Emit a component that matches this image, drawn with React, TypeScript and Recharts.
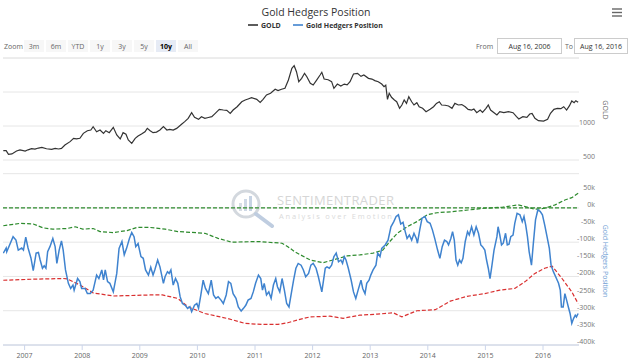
import { CartesianGrid, ComposedChart, Line, ReferenceLine, XAxis, YAxis } from "recharts";

const FONT = "'Open Sans', 'Noto Sans', sans-serif";

// x values are fractional years (Aug 2006 .. Aug 2016)
const goldDates = [
  2006.63, 2006.68, 2006.72, 2006.78, 2006.86, 2006.92, 2007.01, 2007.06, 2007.12, 2007.18, 2007.24, 2007.3,
  2007.38, 2007.47, 2007.53, 2007.59, 2007.64, 2007.7, 2007.79, 2007.85, 2007.9, 2007.96, 2008.02, 2008.09,
  2008.15, 2008.19, 2008.25, 2008.31, 2008.37, 2008.41, 2008.47, 2008.54, 2008.6, 2008.66, 2008.71, 2008.76,
  2008.8, 2008.86, 2008.92, 2008.97, 2009.03, 2009.09, 2009.13, 2009.18, 2009.23, 2009.29, 2009.35, 2009.41,
  2009.47, 2009.52, 2009.58, 2009.64, 2009.73, 2009.78, 2009.84, 2009.9, 2009.95, 2010.02, 2010.07, 2010.13,
  2010.19, 2010.25, 2010.31, 2010.38, 2010.45, 2010.51, 2010.57, 2010.62, 2010.69, 2010.77, 2010.83, 2010.88,
  2010.94, 2011.03, 2011.09, 2011.14, 2011.2, 2011.27, 2011.35, 2011.4, 2011.46, 2011.52, 2011.58, 2011.64,
  2011.68, 2011.72, 2011.76, 2011.81, 2011.86, 2011.9, 2011.96, 2012.01, 2012.07, 2012.13, 2012.16, 2012.2,
  2012.27, 2012.33, 2012.37, 2012.43, 2012.49, 2012.55, 2012.6, 2012.65, 2012.71, 2012.78, 2012.84, 2012.89,
  2012.97, 2013.03, 2013.08, 2013.14, 2013.2, 2013.24, 2013.27, 2013.3, 2013.33, 2013.37, 2013.42, 2013.46,
  2013.51, 2013.55, 2013.59, 2013.63, 2013.67, 2013.72, 2013.76, 2013.81, 2013.85, 2013.91, 2013.97, 2014.04,
  2014.1, 2014.15, 2014.2, 2014.24, 2014.3, 2014.36, 2014.42, 2014.47, 2014.53, 2014.59, 2014.65, 2014.7,
  2014.76, 2014.8, 2014.85, 2014.91, 2014.95, 2015.01, 2015.05, 2015.09, 2015.15, 2015.2, 2015.25, 2015.32,
  2015.4, 2015.48, 2015.54, 2015.58, 2015.65, 2015.72, 2015.77, 2015.81, 2015.86, 2015.92, 2016.01, 2016.08,
  2016.13, 2016.19, 2016.25, 2016.31, 2016.36, 2016.41, 2016.46, 2016.5, 2016.54, 2016.57, 2016.61,
];
const goldPrices = [
  637, 637, 584, 590, 632, 650, 632, 650, 666, 660, 676, 686,
  666, 657, 670, 662, 670, 720, 770, 819, 810, 819, 892, 931,
  941, 990, 916, 941, 892, 931, 902, 980, 868, 809, 902, 880,
  794, 745, 819, 853, 882, 916, 965, 931, 902, 910, 941, 990,
  941, 951, 941, 965, 1029, 1064, 1113, 1196, 1128, 1098, 1137, 1113,
  1125, 1137, 1186, 1245, 1235, 1230, 1186, 1235, 1284, 1357, 1382, 1397,
  1416, 1392, 1348, 1392, 1456, 1481, 1540, 1520, 1540, 1555, 1676, 1848,
  1887, 1799, 1652, 1701, 1775, 1725, 1627, 1603, 1676, 1750, 1790, 1691,
  1680, 1652, 1554, 1617, 1588, 1617, 1605, 1652, 1765, 1775, 1730, 1750,
  1701, 1690, 1667, 1650, 1617, 1578, 1600, 1392, 1481, 1422, 1382, 1357,
  1260, 1309, 1382, 1333, 1431, 1357, 1309, 1343, 1284, 1260, 1211, 1245,
  1284, 1333, 1357, 1309, 1305, 1294, 1260, 1333, 1309, 1315, 1284, 1245,
  1235, 1250, 1196, 1235, 1200, 1260, 1309, 1235, 1196, 1162, 1211, 1196,
  1211, 1196, 1137, 1103, 1137, 1128, 1176, 1186, 1113, 1078, 1073, 1098,
  1186, 1245, 1260, 1255, 1284, 1235, 1299, 1368, 1343, 1372, 1348,
];

const hedgerDates = [
  2006.63, 2006.68, 2006.69, 2006.8, 2006.85, 2006.89, 2006.95, 2006.98, 2007.02, 2007.06, 2007.11, 2007.15,
  2007.2, 2007.24, 2007.27, 2007.31, 2007.34, 2007.37, 2007.4, 2007.44, 2007.49, 2007.53, 2007.56, 2007.6,
  2007.64, 2007.67, 2007.71, 2007.76, 2007.8, 2007.84, 2007.86, 2007.92, 2007.96, 2007.99, 2008.05, 2008.09,
  2008.14, 2008.19, 2008.25, 2008.29, 2008.34, 2008.37, 2008.4, 2008.44, 2008.48, 2008.54, 2008.6, 2008.64,
  2008.69, 2008.73, 2008.77, 2008.82, 2008.86, 2008.9, 2008.93, 2008.97, 2009.02, 2009.06, 2009.1, 2009.15,
  2009.19, 2009.23, 2009.26, 2009.31, 2009.35, 2009.41, 2009.44, 2009.48, 2009.51, 2009.54, 2009.58, 2009.62,
  2009.66, 2009.7, 2009.74, 2009.79, 2009.83, 2009.87, 2009.9, 2009.95, 2009.99, 2010.02, 2010.06, 2010.1,
  2010.14, 2010.19, 2010.24, 2010.28, 2010.32, 2010.36, 2010.41, 2010.45, 2010.5, 2010.54, 2010.58, 2010.62,
  2010.67, 2010.71, 2010.76, 2010.8, 2010.84, 2010.88, 2010.93, 2010.97, 2011.01, 2011.06, 2011.1, 2011.13,
  2011.16, 2011.2, 2011.24, 2011.28, 2011.32, 2011.36, 2011.39, 2011.43, 2011.47, 2011.51, 2011.55, 2011.59,
  2011.64, 2011.67, 2011.71, 2011.75, 2011.8, 2011.84, 2011.88, 2011.93, 2011.97, 2012.01, 2012.06, 2012.1,
  2012.16, 2012.19, 2012.22, 2012.25, 2012.29, 2012.33, 2012.37, 2012.41, 2012.45, 2012.49, 2012.52, 2012.55,
  2012.58, 2012.62, 2012.67, 2012.71, 2012.75, 2012.79, 2012.84, 2012.87, 2012.91, 2012.94, 2012.98, 2013.01,
  2013.05, 2013.1, 2013.13, 2013.17, 2013.2, 2013.26, 2013.31, 2013.36, 2013.41, 2013.45, 2013.49, 2013.53,
  2013.57, 2013.6, 2013.64, 2013.68, 2013.72, 2013.76, 2013.8, 2013.82, 2013.86, 2013.9, 2013.95, 2013.99,
  2014.04, 2014.08, 2014.12, 2014.17, 2014.21, 2014.25, 2014.29, 2014.33, 2014.36, 2014.4, 2014.43, 2014.46,
  2014.49, 2014.52, 2014.55, 2014.58, 2014.61, 2014.65, 2014.69, 2014.72, 2014.76, 2014.8, 2014.84, 2014.88,
  2014.92, 2014.95, 2014.99, 2015.02, 2015.05, 2015.08, 2015.11, 2015.15, 2015.2, 2015.22, 2015.25, 2015.28,
  2015.31, 2015.35, 2015.38, 2015.41, 2015.44, 2015.48, 2015.51, 2015.55, 2015.6, 2015.64, 2015.67, 2015.7,
  2015.73, 2015.76, 2015.8, 2015.83, 2015.87, 2015.91, 2015.95, 2015.99, 2016.03, 2016.07, 2016.11, 2016.14,
  2016.18, 2016.22, 2016.27, 2016.3, 2016.32, 2016.35, 2016.38, 2016.41, 2016.44, 2016.47, 2016.5, 2016.53,
  2016.56, 2016.58, 2016.61,
];
// thousands of contracts
const hedgerK = [
  -132, -117, -128, -84, -94, -123, -117, -123, -85, -117, -146, -183,
  -132, -130, -152, -176, -169, -176, -128, -113, -89, -113, -162, -123,
  -96, -123, -181, -220, -235, -225, -240, -206, -215, -235, -235, -250,
  -250, -240, -196, -206, -181, -210, -181, -215, -220, -245, -191, -118,
  -98, -137, -118, -89, -72, -84, -113, -104, -142, -147, -181, -196,
  -173, -196, -181, -152, -172, -220, -200, -186, -191, -181, -225, -206,
  -220, -259, -279, -284, -293, -288, -303, -284, -279, -293, -254, -211,
  -235, -250, -211, -254, -264, -259, -269, -279, -254, -215, -220, -250,
  -264, -289, -301, -293, -284, -269, -264, -245, -220, -196, -206, -240,
  -220, -254, -245, -264, -225, -206, -230, -245, -206, -240, -279, -289,
  -240, -211, -176, -162, -167, -181, -201, -191, -167, -162, -176, -201,
  -245, -211, -176, -172, -176, -167, -142, -132, -157, -152, -162, -142,
  -152, -176, -211, -245, -264, -240, -211, -235, -250, -220, -211, -196,
  -181, -167, -132, -142, -118, -108, -94, -55, -40, -25, -20, -47,
  -42, -64, -89, -79, -94, -74, -89, -103, -64, -30, -25, -40,
  -45, -64, -89, -123, -147, -113, -94, -98, -108, -89, -69, -94,
  -152, -167, -152, -160, -147, -98, -69, -79, -55, -79, -55, -74,
  -108, -113, -123, -152, -176, -206, -172, -123, -84, -55, -79, -108,
  -103, -74, -108, -106, -84, -79, -45, -16, -20, -40, -25, -50,
  -84, -128, -167, -108, -35, -6, -10, -20, -50, -84, -118, -167,
  -186, -201, -220, -240, -289, -289, -250, -269, -289, -308, -337, -323,
  -313, -318, -308,
];

const upperDates = [
  2006.63, 2006.92, 2007.15, 2007.32, 2007.49, 2007.74, 2007.88, 2008.01, 2008.19, 2008.31, 2008.54, 2008.78,
  2008.95, 2009.18, 2009.44, 2009.66, 2010.13, 2010.36, 2010.6, 2011.05, 2011.47, 2011.57, 2011.69, 2011.96,
  2012.18, 2012.35, 2012.6, 2012.82, 2013.05, 2013.22, 2013.34, 2013.47, 2013.64, 2013.81, 2013.99, 2014.16,
  2014.42, 2014.7, 2014.99, 2015.29, 2015.57, 2015.69, 2015.86, 2016.03, 2016.21, 2016.38, 2016.5, 2016.61,
];
const upperK = [
  -52, -45, -47, -58, -62, -60, -55, -62, -60, -69, -72, -66,
  -57, -57, -62, -69, -74, -89, -100, -98, -103, -113, -128, -152,
  -160, -152, -140, -137, -132, -123, -98, -74, -55, -40, -20, -14,
  -11, -6, -1, 2, 9, 4, -4, -1, 9, 23, 30, 43,
];

const lowerDates = [
  2006.63, 2007.15, 2007.67, 2007.74, 2007.96, 2008.19, 2008.54, 2009.18, 2009.39, 2009.66, 2009.84, 2010.13,
  2010.53, 2010.83, 2011.12, 2011.4, 2011.57, 2011.78, 2011.96, 2012.3, 2012.53, 2012.82, 2013.12, 2013.4,
  2013.55, 2013.81, 2014.13, 2014.39, 2014.68, 2014.99, 2015.25, 2015.51, 2015.69, 2015.86, 2016.03, 2016.16,
  2016.33, 2016.5, 2016.61,
];
const lowerK = [
  -211, -208, -206, -207, -225, -248, -257, -254, -254, -264, -289, -308,
  -323, -337, -340, -340, -335, -325, -318, -316, -322, -313, -310, -306,
  -318, -300, -297, -272, -258, -250, -240, -235, -215, -191, -176, -170,
  -206, -245, -279,
];

const yearTicks = [2007, 2008, 2009, 2010, 2011, 2012, 2013, 2014, 2015, 2016];
const goldTicks = [500, 1000, 1500];
const goldLabelled = [500, 1000];
const hedgerTicks = [100, 50, 0, -50, -100, -150, -200, -250, -300, -350, -400];
const hedgerLabelled = [50, 0, -50, -100, -150, -200, -250, -300, -350, -400];
const zoomButtons = ["3m", "6m", "YTD", "1y", "3y", "5y", "10y", "All"];
const selectedZoom = "10y";
const fromDate = "Aug 16, 2006";
const toDate = "Aug 16, 2016";

const GOLD_COLOR = "#333333";
const HEDGER_COLOR = "#3f83cf";
const UPPER_COLOR = "#2e8b2e";
const LOWER_COLOR = "#d93030";

const axisLabel = (text: string) => (p: any) => {
  const vb = p.viewBox || {};
  return (
    <text x={vb.x + vb.width + 16} y={vb.y - 1} textAnchor="end" fontSize={7} fill="#777" fontFamily={FONT}>
      {text}
    </text>
  );
};

function Backdrop() {
  return (
    <svg width={630} height={364} style={{ position: "absolute", left: 0, top: 0 }} fontFamily={FONT}>
      <text x={316} y={16} textAnchor="middle" fontSize={10.5} fill="#333">
        Gold Hedgers Position
      </text>
      {/* legend */}
      <line x1={248} x2={258} y1={25} y2={25} stroke={GOLD_COLOR} strokeWidth={1.6} />
      <text x={261} y={27.5} fontSize={7} fontWeight="bold" fill="#333">GOLD</text>
      <line x1={293} x2={303} y1={25} y2={25} stroke={HEDGER_COLOR} strokeWidth={1.6} />
      <text x={306} y={27.5} fontSize={7} fontWeight="bold" fill="#333">Gold Hedgers Position</text>
      {/* hamburger */}
      {[9, 12.5, 16].map((y) => (
        <line key={y} x1={612} x2={622} y1={y} y2={y} stroke="#666" strokeWidth={1.4} />
      ))}
      {/* range selector */}
      <text x={4} y={49} fontSize={7} fill="#666">Zoom</text>
      {zoomButtons.map((b, i) => {
        const cx = 34 + i * 22;
        const sel = b === selectedZoom;
        return (
          <g key={b}>
            <rect x={cx - 10} y={40} width={20} height={12} fill={sel ? "#e6ebf5" : "#f7f7f7"} />
            <text x={cx} y={49} textAnchor="middle" fontSize={7} fill={sel ? "#000" : "#666"} fontWeight={sel ? "bold" : "normal"}>
              {b}
            </text>
          </g>
        );
      })}
      <text x={476} y={49} fontSize={7} fill="#666">From</text>
      <rect x={497.5} y={38.5} width={64} height={15} fill="#fff" stroke="#ccc" />
      <text x={529.5} y={49} textAnchor="middle" fontSize={7} fill="#333">{fromDate}</text>
      <text x={565} y={49} fontSize={7} fill="#666">To</text>
      <rect x={574.5} y={38.5} width={53} height={15} fill="#fff" stroke="#ccc" />
      <text x={601} y={49} textAnchor="middle" fontSize={7} fill="#333">{toDate}</text>
      {/* axis titles */}
      <text x={603} y={110} textAnchor="middle" fontSize={7} fill="#666" transform="rotate(90 603 110)">GOLD</text>
      <text x={603} y={261} textAnchor="middle" fontSize={7} fill="#6b9bd3" transform="rotate(90 603 261)">
        Gold Hedgers Position
      </text>
      {/* watermark */}
      <circle cx={246} cy={204} r={13} fill="none" stroke="#d3d8de" strokeWidth={3} />
      <rect x={239} y={203} width={3} height={8} fill="#d8dee6" />
      <rect x={244} y={199} width={3} height={12} fill="#cfd9e6" />
      <rect x={249} y={196} width={3} height={15} fill="#c6d3e4" />
      <line x1={256} y1={214} x2={272} y2={226} stroke="#bfcde0" strokeWidth={4} strokeLinecap="round" />
      <text x={277} y={205} fontSize={13} fill="#d6d6d6" letterSpacing={0.4}>SENTIMENTRADER</text>
      <text x={279} y={219} fontSize={7.5} fill="#dadada" letterSpacing={1.8}>Analysis over Emotion</text>
    </svg>
  );
}

export default function App() {
  const goldData = goldDates.map((t, i) => ({ t, v: goldPrices[i] }));
  const hedgerData = hedgerDates.map((t, i) => ({ t, v: hedgerK[i] }));
  const upperData = upperDates.map((t, i) => ({ t, v: upperK[i] }));
  const lowerData = lowerDates.map((t, i) => ({ t, v: lowerK[i] }));

  return (
    <div style={{ position: "absolute", left: 0, top: 0, width: 630, height: 364, background: "#fff", fontFamily: FONT }}>
      <Backdrop />
      <div style={{ position: "absolute", left: 0, top: 0 }}>
        <ComposedChart width={630} height={364} margin={{ top: 58, right: 51, bottom: 0, left: 3 }}>
          <CartesianGrid yAxisId="gold" vertical={false} stroke="#e6e6e6" />
          <CartesianGrid yAxisId="hedge" vertical={false} stroke="#e6e6e6" />
          <XAxis
            dataKey="t"
            type="number"
            domain={[2006.625, 2016.625]}
            ticks={yearTicks}
            allowDataOverflow
            height={19}
            stroke="#ccd6eb"
            tickSize={5}
            tickMargin={3}
            tick={{ fontSize: 7, fill: "#666", fontFamily: FONT }}
            tickFormatter={(v: number) => String(Math.round(v))}
          />
          <YAxis yAxisId="gold" hide domain={[-2220, 2000]} ticks={goldTicks} allowDataOverflow />
          <YAxis yAxisId="hedge" hide domain={[-400, 437.5]} ticks={hedgerTicks} allowDataOverflow />
          {goldLabelled.map((v) => (
            <ReferenceLine key={"g" + v} yAxisId="gold" y={v} stroke="none" label={axisLabel(String(v))} />
          ))}
          {hedgerLabelled.map((v) => (
            <ReferenceLine key={"h" + v} yAxisId="hedge" y={v} stroke="none" label={axisLabel(v + "k")} />
          ))}
          <ReferenceLine yAxisId="hedge" y={0} stroke={UPPER_COLOR} strokeWidth={1.2} strokeDasharray="4 2" />
          <Line
            yAxisId="hedge"
            data={upperData}
            dataKey="v"
            type="linear"
            stroke={UPPER_COLOR}
            strokeWidth={1.2}
            strokeDasharray="4 2"
            dot={false}
            isAnimationActive={false}
          />
          <Line
            yAxisId="hedge"
            data={lowerData}
            dataKey="v"
            type="linear"
            stroke={LOWER_COLOR}
            strokeWidth={1.2}
            strokeDasharray="4 2"
            dot={false}
            isAnimationActive={false}
          />
          <Line
            yAxisId="hedge"
            data={hedgerData}
            dataKey="v"
            type="linear"
            stroke={HEDGER_COLOR}
            strokeWidth={1.5}
            dot={false}
            isAnimationActive={false}
          />
          <Line
            yAxisId="gold"
            data={goldData}
            dataKey="v"
            type="linear"
            stroke={GOLD_COLOR}
            strokeWidth={1.2}
            dot={false}
            isAnimationActive={false}
          />
        </ComposedChart>
      </div>
    </div>
  );
}
